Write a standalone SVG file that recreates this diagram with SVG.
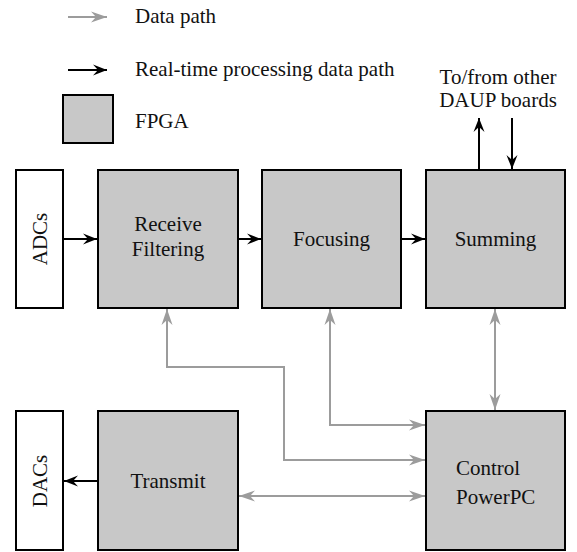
<svg xmlns="http://www.w3.org/2000/svg" width="577" height="552" viewBox="0 0 577 552">
  <style>
    text { font-family: 'Liberation Serif', 'Times New Roman', serif; font-size: 21px; fill: #111; }
    .mid { text-anchor: middle; }
    .fpga { fill: #c8c8c8; stroke: #000; stroke-width: 2; }
    .io { fill: #fff; stroke: #000; stroke-width: 2; }
    .rt { fill: none; stroke: #000; stroke-width: 2; }
    .dp { fill: none; stroke: #9c9c9c; stroke-width: 2; }
  </style>
  <defs>
    <marker id="blk" markerUnits="userSpaceOnUse" markerWidth="16" markerHeight="12" viewBox="-15 -6 16 12" refX="0" refY="0" orient="auto-start-reverse">
      <path d="M0,0 L-14,-5.5 L-9,0 L-14,5.5 Z" fill="#000"/>
    </marker>
    <marker id="gry" markerUnits="userSpaceOnUse" markerWidth="18" markerHeight="12" viewBox="-17 -6 18 12" refX="0" refY="0" orient="auto-start-reverse">
      <path d="M0,0 L-16,-5.5 L-11,0 L-16,5.5 Z" fill="#9c9c9c"/>
    </marker>
  </defs>

  <!-- legend -->
  <g id="legend">
    <line class="dp" x1="68" y1="17" x2="107" y2="17" marker-end="url(#gry)"/>
    <text x="135" y="23">Data path</text>
    <line class="rt" x1="68" y1="70" x2="107" y2="70" marker-end="url(#blk)"/>
    <text x="135" y="76">Real-time processing data path</text>
    <rect class="fpga" x="63" y="95" width="50" height="48"/>
    <text x="135" y="128">FPGA</text>
  </g>

  <text class="mid" x="498" y="84">To/from other</text>
  <text class="mid" x="498" y="107">DAUP boards</text>

  <!-- blocks -->
  <g id="adcs">
    <rect class="io" x="16" y="170" width="47" height="138"/>
    <text class="mid" transform="translate(47,239) rotate(-90)">ADCs</text>
  </g>
  <g id="receive">
    <rect class="fpga" x="98" y="170" width="140" height="138"/>
    <text class="mid" x="168" y="231">Receive</text>
    <text class="mid" x="168" y="256">Filtering</text>
  </g>
  <g id="focusing">
    <rect class="fpga" x="262" y="170" width="139" height="138"/>
    <text class="mid" x="331.5" y="246">Focusing</text>
  </g>
  <g id="summing">
    <rect class="fpga" x="426" y="170" width="139" height="138"/>
    <text class="mid" x="495.5" y="246">Summing</text>
  </g>
  <g id="dacs">
    <rect class="io" x="16" y="411" width="47" height="139"/>
    <text class="mid" transform="translate(47,481) rotate(-90)">DACs</text>
  </g>
  <g id="transmit">
    <rect class="fpga" x="98" y="411" width="140" height="139"/>
    <text class="mid" x="168" y="488">Transmit</text>
  </g>
  <g id="control">
    <rect class="fpga" x="426" y="411" width="139" height="139"/>
    <text x="456" y="475">Control</text>
    <text x="456" y="504">PowerPC</text>
  </g>

  <!-- connectors -->
  <g id="connectors">
    <line class="rt" x1="63" y1="239" x2="97" y2="239" marker-end="url(#blk)"/>
    <line class="rt" x1="238" y1="239" x2="261" y2="239" marker-end="url(#blk)"/>
    <line class="rt" x1="401" y1="239" x2="425" y2="239" marker-end="url(#blk)"/>
    <line class="rt" x1="479" y1="169" x2="479" y2="118" marker-end="url(#blk)"/>
    <line class="rt" x1="512" y1="118" x2="512" y2="169" marker-end="url(#blk)"/>
    <line class="rt" x1="98" y1="481" x2="64" y2="481" marker-end="url(#blk)"/>

    <polyline class="dp" points="425,460 284,460 284,367 167,367 167,309" marker-start="url(#gry)" marker-end="url(#gry)"/>
    <polyline class="dp" points="425,425 330,425 330,309" marker-start="url(#gry)" marker-end="url(#gry)"/>
    <line class="dp" x1="495" y1="309" x2="495" y2="410" marker-start="url(#gry)" marker-end="url(#gry)"/>
    <line class="dp" x1="239" y1="496" x2="425" y2="496" marker-start="url(#gry)" marker-end="url(#gry)"/>
  </g>
</svg>
